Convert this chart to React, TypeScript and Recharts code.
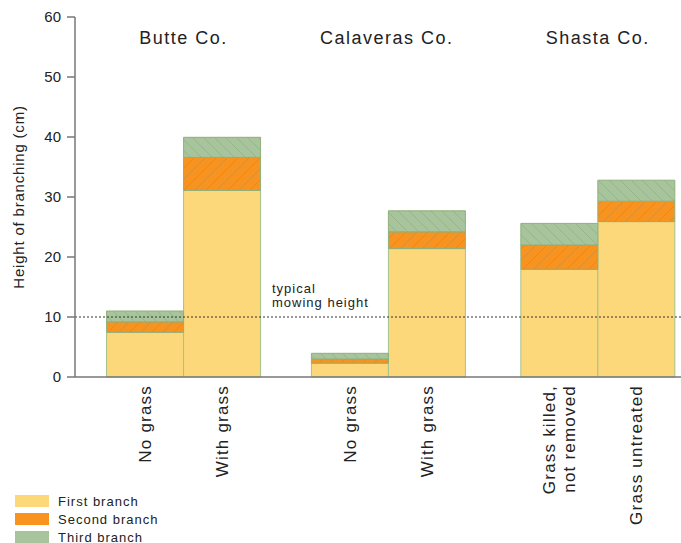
import React from 'react';
import { BarChart, Bar, XAxis, YAxis, ReferenceLine, ReferenceDot } from 'recharts';

// bar centres on a numeric x scale (one unit = one bar width), gaps between counties
const positions = [1, 2, 3.66, 4.66, 6.38, 7.38];
const treatments = ['No grass', 'With grass', 'No grass', 'With grass', 'Grass killed,\nnot removed', 'Grass untreated'];
const firstBranch = [7.45, 31.1, 2.3, 21.4, 17.95, 25.9];
const secondBranch = [1.75, 5.5, 0.7, 2.8, 4.05, 3.4];
const thirdBranch = [1.8, 3.35, 0.95, 3.5, 3.6, 3.5];
const counties = ['Butte Co.', 'Calaveras Co.', 'Shasta Co.'];
const countyPositions = [1.5, 4.14, 6.88];
const yTicks = [0, 10, 20, 30, 40, 50, 60];
const seriesNames = ['First branch', 'Second branch', 'Third branch'];

const data = positions.map((x, i) => ({
  x,
  first: firstBranch[i],
  second: secondBranch[i],
  third: thirdBranch[i],
}));

const FONT = '"Liberation Sans", Arial, sans-serif';
const TEXT = '#222';
const COLORS = { first: '#fcd87a', second: '#f7931e', third: '#a7c49c' };
const EDGE = '#a5c28b';

const TreatmentTick = (props: any) => {
  const { x, y, payload } = props;
  const i = positions.indexOf(payload.value);
  const lines = (treatments[i] ?? '').split('\n');
  return (
    <g transform={`translate(${x},${y})`}>
      {lines.map((l, k) => (
        <text
          key={k}
          transform="rotate(-90)"
          x={-8}
          y={(k - (lines.length - 1) / 2) * 20}
          dy="0.36em"
          textAnchor="end"
          fontSize={17}
          letterSpacing={1.2}
          fontFamily={FONT}
          fill={TEXT}
        >
          {l}
        </text>
      ))}
    </g>
  );
};

const countyLabel = (name: string) => (props: any) => {
  const { viewBox } = props;
  const cx = viewBox.x + viewBox.width / 2;
  return (
    <text x={cx} y={viewBox.y + 27} textAnchor="middle" fontSize={18} letterSpacing={1.5} fontFamily={FONT} fill={TEXT}>
      {name}
    </text>
  );
};

const MowingLabel = (props: any) => {
  const { viewBox } = props;
  const x = viewBox.x + 197;
  const y = viewBox.y;
  return (
    <text x={x} y={y - 24} fontSize={13} letterSpacing={1} fontFamily={FONT} fill={TEXT}>
      <tspan x={x}>typical</tspan>
      <tspan x={x} dy={14}>mowing height</tspan>
    </text>
  );
};

export default function App() {
  return (
    <div style={{ position: 'absolute', left: 0, top: 0, width: 681, height: 543, background: '#fff' }}>
      <BarChart
        width={681}
        height={543}
        data={data}
        margin={{ top: 17, right: 0, bottom: 0, left: 0 }}
      >
        <defs>
          <pattern id="hatchSecond" patternUnits="userSpaceOnUse" width={11} height={11}>
            <rect width={11} height={11} fill={COLORS.second} />
            <path d="M0,11 L11,0 M-2,2 L2,-2 M9,13 L13,9" stroke="#cf8d35" strokeWidth={0.8} />
          </pattern>
          <pattern id="hatchThird" patternUnits="userSpaceOnUse" width={11} height={11}>
            <rect width={11} height={11} fill={COLORS.third} />
            <path d="M0,0 L11,11 M-2,9 L2,13 M9,-2 L13,2" stroke="#8fb283" strokeWidth={0.8} />
          </pattern>
        </defs>
        <XAxis
          dataKey="x"
          type="number"
          domain={[0.09, 7.96]}
          ticks={positions}
          interval={0}
          height={166}
          axisLine={{ stroke: '#777', strokeWidth: 1.5 }}
          tickLine={false}
          tickSize={0}
          tickMargin={0}
          tick={<TreatmentTick />}
        />
        <YAxis
          type="number"
          domain={[0, 60]}
          ticks={yTicks}
          interval={0}
          width={75}
          axisLine={{ stroke: '#777', strokeWidth: 1.5 }}
          tickLine={{ stroke: '#777', strokeWidth: 1.5 }}
          tickSize={8}
          tickMargin={6}
          tick={{ fontSize: 15, fill: TEXT, fontFamily: FONT }}
          label={{
            value: 'Height of branching (cm)',
            angle: -90,
            position: 'insideLeft',
            dx: 14,
            style: { fontSize: 15, fill: TEXT, fontFamily: FONT, letterSpacing: 0.8, textAnchor: 'middle' },
          }}
        />
        <ReferenceLine
          y={10}
          stroke="#333"
          strokeWidth={1}
          strokeDasharray="2 2"
          label={<MowingLabel />}
        />
        <Bar dataKey="first" name={seriesNames[0]} stackId="a" barSize={77} fill={COLORS.first} stroke={EDGE} strokeWidth={1} isAnimationActive={false} />
        <Bar dataKey="second" name={seriesNames[1]} stackId="a" barSize={77} fill="url(#hatchSecond)" stroke="#8fb07a" strokeWidth={1} isAnimationActive={false} />
        <Bar dataKey="third" name={seriesNames[2]} stackId="a" barSize={77} fill="url(#hatchThird)" stroke="#8fb07a" strokeWidth={1} isAnimationActive={false} />
        {counties.map((c, i) => (
          <ReferenceDot
            key={c}
            x={countyPositions[i]}
            y={60}
            r={0}
            fill="none"
            stroke="none"
            label={countyLabel(c)}
          />
        ))}
      </BarChart>
      <div style={{ position: 'absolute', left: 15, top: 492, fontFamily: FONT, fontSize: 13, letterSpacing: 1, color: TEXT }}>
        {seriesNames.map((n, i) => (
          <div key={n} style={{ display: 'flex', alignItems: 'center', height: 18 }}>
            <span
              style={{
                display: 'inline-block',
                width: 34,
                height: 12,
                marginRight: 9,
                background: [COLORS.first, COLORS.second, COLORS.third][i],
              }}
            />
            {n}
          </div>
        ))}
      </div>
    </div>
  );
}
